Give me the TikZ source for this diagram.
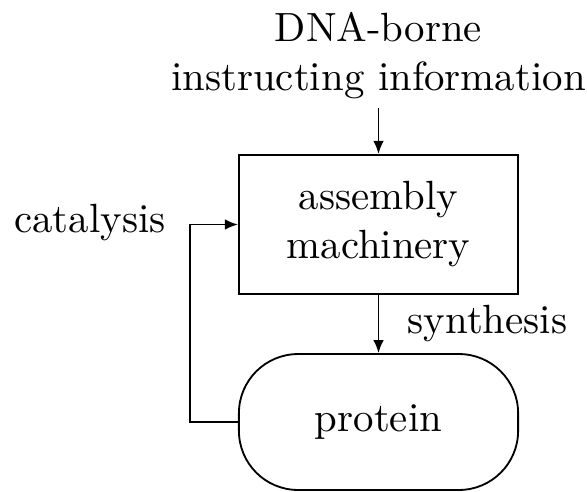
\documentclass[tikz,border=0pt]{standalone}
\usetikzlibrary{arrows.meta}
\begin{document}
\begin{tikzpicture}[x=0.245pt,y=-0.245pt,
  every node/.style={font=\normalsize},
  boxnode/.style={draw,line width=0.45pt,minimum width=68.4pt,minimum height=34.1pt,inner sep=0pt,align=center},
  pillnode/.style={draw,line width=0.45pt,minimum width=68.4pt,minimum height=33.3pt,inner sep=0pt,rounded corners=14.5pt},
  conn/.style={line width=0.45pt,-{Latex[length=3.2pt,width=2.6pt]}}]
\useasboundingbox (0,0) rectangle (587,491);
\node[align=center,inner sep=2pt] (info) at (378.5,56) {DNA-borne\\instructing information};
\node[boxnode] (mach) at (378.5,224.5) {assembly\\machinery};
\node[pillnode] (prot) at (378.5,422) {protein};
\node[anchor=base,inner sep=0pt] (cat) at (90,233) {catalysis};
\node[anchor=base,inner sep=0pt] (syn) at (487.5,333) {synthesis};
\coordinate (loop) at (190,422);
\draw[conn] (info.south) -- (mach.north);
\draw[conn] (mach.south) -- (prot.north);
\draw[conn] (prot.west) -- (loop) |- (mach.west);
\end{tikzpicture}
\end{document}
